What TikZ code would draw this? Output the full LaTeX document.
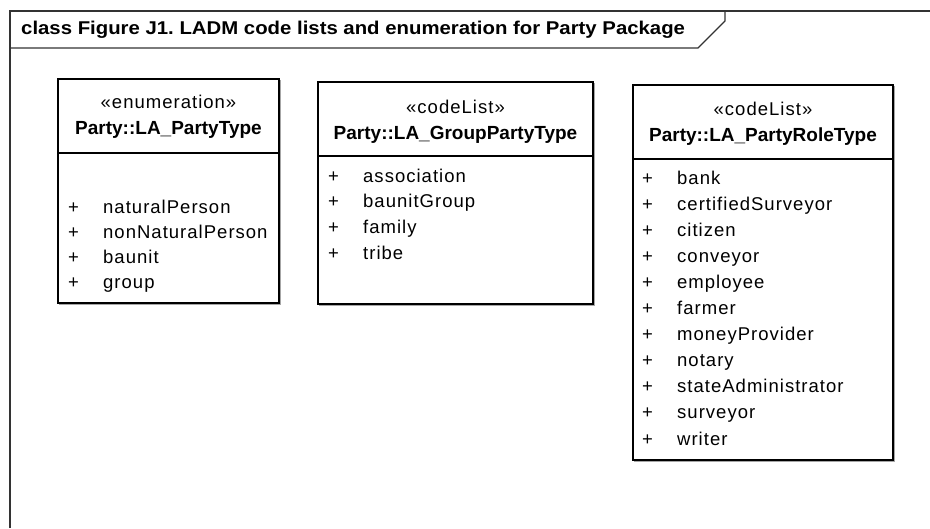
\documentclass[tikz,border=0pt]{standalone}
\usepackage{fontspec}
\setmainfont{Liberation Sans}
\newfontfamily\itemfont[LetterSpace=5.5]{Liberation Sans}
\newfontfamily\titlefont[FakeStretch=1.1]{Liberation Sans}
\frenchspacing
\begin{document}
\begin{tikzpicture}[x=1pt,y=-1pt,
  frameline/.style={line width=1.1pt,draw=black!80},
  umlbox/.style={draw=black,line width=1.2pt,fill=white,anchor=north west,inner sep=0pt,outer sep=0pt},
  shadowbox/.style={draw=black!35,line width=1pt,anchor=north west,inner sep=0pt,outer sep=0pt},
  stereo/.style={anchor=base,inner sep=0pt,font=\itemfont\fontsize{18.5}{20}\selectfont},
  cname/.style={anchor=base,inner sep=0pt,font=\bfseries\fontsize{19}{21}\selectfont},
  plus/.style={anchor=base west,inner sep=0pt,font=\itemfont\fontsize{18.5}{20}\selectfont},
  item/.style={anchor=base west,inner sep=0pt,font=\itemfont\fontsize{18.5}{20}\selectfont}]
\useasboundingbox (0,0) rectangle (930,528);
% frame
\coordinate (fbl) at (10,528);
\coordinate (ftl) at (10,11);
\coordinate (ftr) at (930,11);
\coordinate (t1) at (725,11);
\coordinate (t2) at (725,21);
\coordinate (t3) at (698,48);
\coordinate (t4) at (10,48);
\draw[frameline] (fbl) -- (ftl) -- (ftr);
\draw[frameline] (t1) -- (t2) -- (t3) -- (t4);
\node[anchor=west,inner sep=0pt,font=\titlefont\bfseries\fontsize{18.5}{20}\selectfont] (title) at (21,30) {class Figure J1. LADM code lists and enumeration for Party Package};

% box 1
\node[shadowbox,minimum width=221pt,minimum height=224pt] (s1) at (59.5,80.5) {};
\node[umlbox,minimum width=221pt,minimum height=224pt] (b1) at (58,79) {};
\coordinate (b1l) at (58,153);
\coordinate (b1r) at (279,153);
\draw[line width=1.2pt] (b1l) -- (b1r);
\node[stereo] (st1) at (168.5,108) {«enumeration»};
\node[cname] (n1) at (168.5,134) {Party::LA\_PartyType};
\foreach \t [count=\i from 0] in {naturalPerson,nonNaturalPerson,baunit,group}{
  \node[plus] (p1-\i) at (68,213+25*\i) {+};
  \node[item] (i1-\i) at (103,213+25*\i) {\t};
}

% box 2
\node[shadowbox,minimum width=275pt,minimum height=222pt] (s2) at (319.5,83.5) {};
\node[umlbox,minimum width=275pt,minimum height=222pt] (b2) at (318,82) {};
\coordinate (b2l) at (318,156);
\coordinate (b2r) at (593,156);
\draw[line width=1.2pt] (b2l) -- (b2r);
\node[stereo] (st2) at (455.5,113) {«codeList»};
\node[cname] (n2) at (455.5,139) {Party::LA\_GroupPartyType};
\foreach \t [count=\i from 0] in {association,baunitGroup,family,tribe}{
  \node[plus] (p2-\i) at (328,182+25.8*\i) {+};
  \node[item] (i2-\i) at (363,182+25.8*\i) {\t};
}

% box 3
\node[shadowbox,minimum width=260pt,minimum height=375pt] (s3) at (634.5,86.5) {};
\node[umlbox,minimum width=260pt,minimum height=375pt] (b3) at (633,85) {};
\coordinate (b3l) at (633,159);
\coordinate (b3r) at (893,159);
\draw[line width=1.2pt] (b3l) -- (b3r);
\node[stereo] (st3) at (763,115) {«codeList»};
\node[cname] (n3) at (763,141) {Party::LA\_PartyRoleType};
\foreach \t [count=\i from 0] in {bank,certifiedSurveyor,citizen,conveyor,employee,farmer,moneyProvider,notary,stateAdministrator,surveyor,writer}{
  \node[plus] (p3-\i) at (642,184+26.1*\i) {+};
  \node[item] (i3-\i) at (677,184+26.1*\i) {\t};
}
\end{tikzpicture}
\end{document}
